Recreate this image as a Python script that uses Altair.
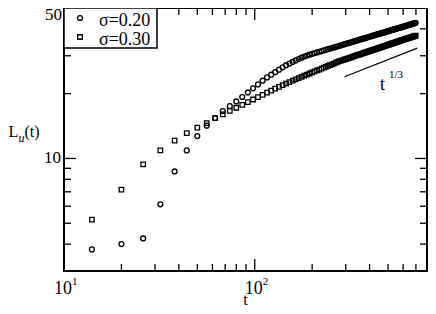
import altair as alt
import pandas as pd

# ---------------- data ----------------
t_vals = [14, 20, 26, 32, 38, 44, 50, 56, 62, 68, 74, 80, 86, 92, 98, 104, 110, 116,
          122, 128, 134, 140, 146, 152, 158, 164, 170, 176, 182, 188, 194, 200, 206,
          212, 218, 224, 230, 236, 242, 248, 254, 260, 266, 272, 278, 284, 290, 296,
          302, 308, 314, 320, 326, 332, 338, 344, 350, 356, 362, 368, 374, 380, 386,
          392, 398, 404, 410, 416, 422, 428, 434, 440, 446, 452, 458, 464, 470, 476,
          482, 488, 494, 500, 506, 512, 518, 524, 530, 536, 542, 548, 554, 560, 566,
          572, 578, 584, 590, 596, 602, 608, 614, 620, 626, 632, 638, 644, 650, 656,
          662, 668, 674, 680, 686, 692, 698]

L_sigma020 = [3.78, 4.00, 4.25, 6.12, 8.70, 10.9, 12.7, 14.2, 15.4, 16.6, 17.5, 18.4,
              19.3, 20.26, 21.18, 22.08, 22.97, 23.80, 24.49, 25.18, 25.86, 26.52,
              27.11, 27.60, 28.07, 28.55, 28.98, 29.38, 29.76, 30.08, 30.36, 30.62,
              30.86, 31.09, 31.31, 31.54, 31.76, 31.97, 32.18, 32.38, 32.58, 32.78,
              32.98, 33.17, 33.36, 33.55, 33.74, 33.94, 34.13, 34.30, 34.47, 34.64,
              34.81, 34.98, 35.15, 35.32, 35.49, 35.66, 35.82, 35.97, 36.12, 36.27,
              36.42, 36.57, 36.72, 36.87, 37.02, 37.17, 37.31, 37.44, 37.58, 37.71,
              37.85, 37.98, 38.11, 38.25, 38.38, 38.52, 38.65, 38.77, 38.90, 39.02,
              39.14, 39.27, 39.39, 39.51, 39.64, 39.76, 39.88, 39.99, 40.11, 40.22,
              40.33, 40.45, 40.56, 40.67, 40.79, 40.90, 41.01, 41.12, 41.22, 41.33,
              41.43, 41.54, 41.64, 41.75, 41.85, 41.96, 42.06, 42.16, 42.26, 42.36,
              42.45, 42.55, 42.65]

L_sigma030 = [5.20, 7.16, 9.39, 10.9, 12.1, 13.1, 13.9, 14.6, 15.4, 16.03, 16.63, 17.20,
              17.75, 18.28, 18.79, 19.28, 19.75, 20.21, 20.66, 21.09, 21.52, 21.93,
              22.29, 22.63, 22.97, 23.30, 23.62, 23.94, 24.24, 24.53, 24.81, 25.09,
              25.36, 25.63, 25.89, 26.15, 26.40, 26.65, 26.90, 27.14, 27.37, 27.61,
              27.84, 28.07, 28.29, 28.49, 28.66, 28.84, 29.01, 29.18, 29.35, 29.51,
              29.68, 29.85, 30.01, 30.17, 30.32, 30.47, 30.62, 30.77, 30.92, 31.06,
              31.21, 31.36, 31.51, 31.65, 31.78, 31.92, 32.05, 32.19, 32.32, 32.45,
              32.58, 32.72, 32.85, 32.98, 33.10, 33.23, 33.35, 33.47, 33.59, 33.71,
              33.84, 33.96, 34.08, 34.20, 34.31, 34.42, 34.54, 34.65, 34.76, 34.87,
              34.98, 35.10, 35.21, 35.32, 35.42, 35.53, 35.63, 35.74, 35.84, 35.94,
              36.05, 36.15, 36.26, 36.36, 36.46, 36.56, 36.65, 36.75, 36.85, 36.95,
              37.04, 37.14, 37.24]

series_labels = ["σ=0.20", "σ=0.30"]

ref_t = [295.5, 711.0]
ref_L = [23.97, 32.55]
ref_label = ["t", "1/3"]

x_major = [10, 100]
x_minor = [20, 30, 40, 50, 60, 70, 80, 90, 200, 300, 400, 500, 600, 700]
y_major = [10]
y_minor = [4, 5, 6, 7, 8, 9, 20, 30, 40]
x_label_base = ["10", "10"]
x_label_exp = ["1", "2"]
y_labels = [10, 50]

assert len(t_vals) == len(L_sigma020) == len(L_sigma030)

# ---------------- layout ----------------
W, H = 363, 263
X_DOM = [10, 800]
Y_DOM = [3, 50]
FONT = "Liberation Serif, Times New Roman, DejaVu Serif, serif"
MAJ, MIN = 12, 7

xs = alt.Scale(type="log", domain=X_DOM, nice=False)
ys = alt.Scale(type="log", domain=Y_DOM, nice=False)

df20 = pd.DataFrame({"t": t_vals, "L": L_sigma020})
df30 = pd.DataFrame({"t": t_vals, "L": L_sigma030})
dref = pd.DataFrame({"t": ref_t, "L": ref_L})
one = pd.DataFrame({"a": [0]})


def X(f="t"):
    return alt.X(f + ":Q", scale=xs, axis=None)


def Y(f="L"):
    return alt.Y(f + ":Q", scale=ys, axis=None)


# ---- inward tick segments (a tick length in pixels turned into a log-scale factor) ----
def fy(px):
    return (Y_DOM[1] / Y_DOM[0]) ** (px / H)


def fx(px):
    return (X_DOM[1] / X_DOM[0]) ** (px / W)


rows = []
k = 0
for vals, ln in ((x_major, MAJ), (x_minor, MIN)):
    for v in vals:
        rows += [(k, 0, v, Y_DOM[0]), (k, 1, v, Y_DOM[0] * fy(ln))]
        k += 1
        rows += [(k, 0, v, Y_DOM[1]), (k, 1, v, Y_DOM[1] / fy(ln))]
        k += 1
for vals, ln in ((y_major, MAJ), (y_minor, MIN)):
    for v in vals:
        rows += [(k, 0, X_DOM[0], v), (k, 1, X_DOM[0] * fx(ln), v)]
        k += 1
        rows += [(k, 0, X_DOM[1], v), (k, 1, X_DOM[1] / fx(ln), v)]
        k += 1
ticks_df = pd.DataFrame(rows, columns=["id", "seq", "t", "L"])

ticks = alt.Chart(ticks_df).mark_line(color="black", strokeWidth=1.3).encode(
    x=X(), y=Y(), detail="id:N", order="seq:Q")

circles = alt.Chart(df20).mark_point(
    shape="circle", filled=False, size=24, strokeWidth=1.3, color="black", opacity=1
).encode(x=X(), y=Y())

squares = alt.Chart(df30).mark_point(
    shape="square", filled=False, size=20, strokeWidth=1.3, color="black", opacity=1
).encode(x=X(), y=Y())

refline = alt.Chart(dref).mark_line(color="black", strokeWidth=1.2).encode(x=X(), y=Y())

ref_t_txt = alt.Chart(one).mark_text(
    text=ref_label[0], font=FONT, fontSize=18, align="left", baseline="alphabetic", color="black"
).encode(x=alt.value(316), y=alt.value(82))
ref_e_txt = alt.Chart(one).mark_text(
    text=ref_label[1], font=FONT, fontSize=11, align="left", baseline="alphabetic", color="black"
).encode(x=alt.value(325), y=alt.value(70))

# ---- tick labels ----
xlab_df = pd.DataFrame({"t": x_major, "base": x_label_base, "exp": x_label_exp})
xlab_base = alt.Chart(xlab_df).mark_text(
    font=FONT, fontSize=18, align="center", baseline="alphabetic", color="black", dx=-1
).encode(x=X(), y=alt.value(H + 23), text="base:N")
xlab_exp = alt.Chart(xlab_df).mark_text(
    font=FONT, fontSize=11, align="left", baseline="alphabetic", color="black", dx=8
).encode(x=X(), y=alt.value(H + 14), text="exp:N")

ylab_df = pd.DataFrame({"L": y_labels, "txt": [str(v) for v in y_labels]})
ylab10 = alt.Chart(ylab_df.iloc[[0]]).mark_text(
    font=FONT, fontSize=17, align="right", baseline="middle", color="black"
).encode(y=Y(), x=alt.value(-3), text="txt:N")
ylab50 = alt.Chart(ylab_df.iloc[[1]]).mark_text(
    font=FONT, fontSize=17, align="right", baseline="middle", color="black", dy=7
).encode(y=Y(), x=alt.value(-2), text="txt:N")

# ---- axis titles ----
xtitle = alt.Chart(one).mark_text(
    text="t", font=FONT, fontSize=16, align="center", baseline="alphabetic", color="black"
).encode(x=alt.value(W / 2), y=alt.value(H + 34))

yt_L = alt.Chart(one).mark_text(
    text="L", font=FONT, fontSize=16, align="left", baseline="alphabetic", color="black"
).encode(x=alt.value(-55.5), y=alt.value(129))
yt_u = alt.Chart(one).mark_text(
    text="u", font=FONT, fontSize=12, fontStyle="italic", align="left", baseline="alphabetic",
    color="black"
).encode(x=alt.value(-45.5), y=alt.value(134))
yt_t = alt.Chart(one).mark_text(
    text="(t)", font=FONT, fontSize=16, align="left", baseline="alphabetic", color="black"
).encode(x=alt.value(-39.5), y=alt.value(129))

# ---- legend box ----
leg_box = alt.Chart(one).mark_rect(fill="white", stroke="black", strokeWidth=1.5).encode(
    x=alt.value(0), x2=alt.value(93), y=alt.value(0), y2=alt.value(40))
leg_c = alt.Chart(one).mark_point(
    shape="circle", filled=False, size=24, strokeWidth=1.3, color="black", opacity=1
).encode(x=alt.value(16), y=alt.value(10))
leg_s = alt.Chart(one).mark_point(
    shape="square", filled=False, size=20, strokeWidth=1.3, color="black", opacity=1
).encode(x=alt.value(16), y=alt.value(29))
leg_t1 = alt.Chart(one).mark_text(
    text=series_labels[0], font=FONT, fontSize=18, align="left", baseline="alphabetic",
    color="black"
).encode(x=alt.value(35), y=alt.value(18))
leg_t2 = alt.Chart(one).mark_text(
    text=series_labels[1], font=FONT, fontSize=18, align="left", baseline="alphabetic",
    color="black"
).encode(x=alt.value(35), y=alt.value(36.5))

chart = alt.layer(
    ticks, circles, squares, refline, ref_t_txt, ref_e_txt,
    xlab_base, xlab_exp, ylab10, ylab50, xtitle, yt_L, yt_u, yt_t,
    leg_box, leg_c, leg_s, leg_t1, leg_t2
).properties(
    width=W, height=H,
    autosize=alt.AutoSizeParams(type="none"),
    padding={"left": 56, "top": 0, "right": 1, "bottom": 35},
    background="white",
).configure_view(stroke="black", strokeWidth=2)

chart.save("out.html", embed_options={"renderer": "svg", "actions": False})
